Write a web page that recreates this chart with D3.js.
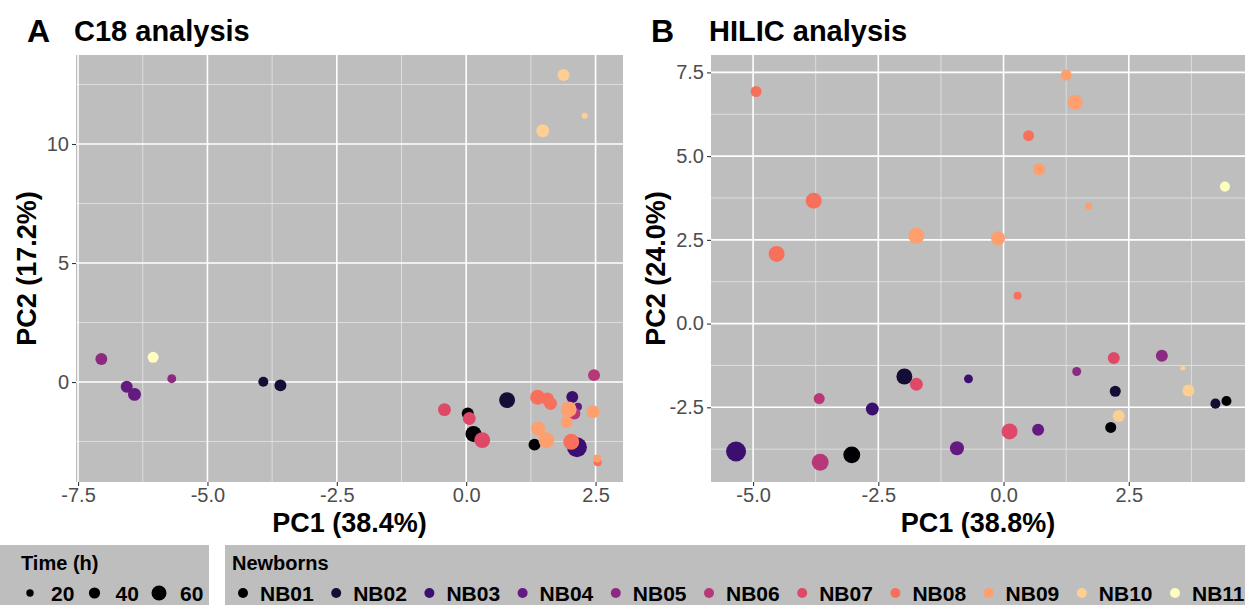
<!DOCTYPE html>
<html>
<head>
<meta charset="utf-8">
<script src="https://cdn.jsdelivr.net/npm/d3@7"></script>
<style>
    body { margin: 0; background: #ffffff; }
    svg { display: block; font-family: "Liberation Sans", Arial, sans-serif; }
</style>
</head>
<body>
<div id="chart"></div>
<script>

// newborn ids (colour legend)
let newborns = ["NB01", "NB02", "NB03", "NB04", "NB05", "NB06", "NB07", "NB08", "NB09", "NB10", "NB11"];
let timeBreaks = [20, 40, 60];

// C18 analysis (panel A)
let c18Newborn = ["NB01", "NB01", "NB01", "NB02", "NB02", "NB02", "NB03", "NB03", "NB04", "NB04", "NB04",
    "NB05", "NB05", "NB06", "NB06", "NB07", "NB07", "NB07", "NB08", "NB08", "NB08", "NB08", "NB08",
    "NB09", "NB09", "NB09", "NB09", "NB09", "NB09", "NB10", "NB10", "NB10", "NB11"];
let c18PC1 = [0.03, 0.14, 1.32, -3.92, -3.59, 0.79, 2.05, 2.14, -6.56, -6.41, 2.16,
    -7.05, -5.69, 2.47, 2.09, -0.42, 0.06, 0.31, 1.38, 1.57, 1.63, 2.03, 2.54,
    1.98, 2.45, 1.94, 1.39, 1.55, 2.53, 1.88, 2.29, 1.48, -6.05];
let c18PC2 = [-1.32, -2.18, -2.63, 0.01, -0.14, -0.76, -0.63, -2.74, -0.20, -0.52, -1.04,
    0.97, 0.14, 0.29, -1.32, -1.16, -1.53, -2.44, -0.64, -0.71, -0.90, -2.51, -3.37,
    -1.15, -1.25, -1.68, -1.95, -2.44, -3.21, 12.9, 11.19, 10.56, 1.04];
let c18Time = [44, 65, 44, 34, 44, 65, 44, 86, 44, 49, 23,
    44, 28, 44, 44, 49, 49, 65, 60, 49, 49, 65, 23,
    65, 49, 44, 55, 65, 23, 44, 13, 49, 39];

// HILIC analysis (panel B)
let hilicNewborn = ["NB01", "NB01", "NB01", "NB02", "NB02", "NB02", "NB03", "NB03", "NB03", "NB04", "NB04",
    "NB05", "NB05", "NB06", "NB06", "NB07", "NB07", "NB07", "NB08", "NB08", "NB08", "NB08", "NB08",
    "NB09", "NB09", "NB09", "NB09", "NB09", "NB09", "NB10", "NB10", "NB10", "NB11"];
let hilicPC1 = [2.14, 4.45, -3.03, -1.98, 2.23, 4.23, -0.70, -2.62, -5.34, 0.69, -0.93,
    3.16, 1.46, -3.68, -3.66, 2.20, -1.74, 0.12, -4.94, 0.50, -3.79, -4.53, 0.28,
    1.25, 1.43, 0.71, 1.70, -1.74, -0.11, 3.58, 3.69, 2.30, 4.42];
let hilicPC2 = [-3.10, -2.31, -3.92, -1.58, -2.02, -2.39, -1.65, -2.55, -3.82, -3.17, -3.72,
    -0.96, -1.43, -2.24, -4.14, -1.03, -1.81, -3.22, 6.93, 5.61, 3.67, 2.08, 0.83,
    7.42, 6.61, 4.61, 3.51, 2.62, 2.55, -1.33, -2.00, -2.76, 4.09];
let hilicTime = [39, 34, 70, 65, 39, 34, 28, 49, 86, 44, 55,
    44, 28, 39, 70, 44, 49, 65, 39, 39, 65, 65, 23,
    39, 60, 44, 18, 65, 55, 7, 44, 44, 34];

let w = 1245;
let h = 605;

let panelBg = "#bebebe";

// ggplot style labels use a plain hyphen for negatives
let locale = d3.formatLocale({ decimal: ".", thousands: ",", grouping: [3], currency: ["", ""], minus: "-" });

let color = d3.scaleOrdinal()
    .domain(newborns)
    .range(newborns.map(function (d, i) { return d3.interpolateMagma(i / (newborns.length - 1)); }));

let radius = d3.scaleLinear().domain([0, 100]).range([1.8, 11.3]);

let svg = d3.select("#chart")
    .append("svg")
    .attr("width", w)
    .attr("height", h);

function zipPoints(ids, xs, ys, ts) {
    return ids.map(function (d, i) {
        return { nb: d, x: xs[i], y: ys[i], t: ts[i] };
    });
}

function drawPanel(opts) {
    let x = d3.scaleLinear().domain(opts.xDomain).range([opts.left, opts.right]);
    let y = d3.scaleLinear().domain(opts.yDomain).range([opts.bottom, opts.top]);

    let g = svg.append("g");

    g.append("rect")
        .attr("x", opts.left)
        .attr("y", opts.top)
        .attr("width", opts.right - opts.left)
        .attr("height", opts.bottom - opts.top)
        .attr("fill", panelBg);

    // minor grid
    g.selectAll(".minor-x")
        .data(opts.xMinor)
        .enter()
        .append("line")
        .attr("x1", function (d) { return x(d); })
        .attr("x2", function (d) { return x(d); })
        .attr("y1", opts.top)
        .attr("y2", opts.bottom)
        .attr("stroke", "#e4e4e4")
        .attr("stroke-width", 0.8);

    g.selectAll(".minor-y")
        .data(opts.yMinor)
        .enter()
        .append("line")
        .attr("x1", opts.left)
        .attr("x2", opts.right)
        .attr("y1", function (d) { return y(d); })
        .attr("y2", function (d) { return y(d); })
        .attr("stroke", "#e4e4e4")
        .attr("stroke-width", 0.8);

    // major grid
    g.selectAll(".major-x")
        .data(opts.xTicks)
        .enter()
        .append("line")
        .attr("x1", function (d) { return x(d); })
        .attr("x2", function (d) { return x(d); })
        .attr("y1", opts.top)
        .attr("y2", opts.bottom)
        .attr("stroke", "#ffffff")
        .attr("stroke-width", 1.6);

    g.selectAll(".major-y")
        .data(opts.yTicks)
        .enter()
        .append("line")
        .attr("x1", opts.left)
        .attr("x2", opts.right)
        .attr("y1", function (d) { return y(d); })
        .attr("y2", function (d) { return y(d); })
        .attr("stroke", "#ffffff")
        .attr("stroke-width", 1.6);

    g.selectAll("circle")
        .data(opts.points)
        .enter()
        .append("circle")
        .attr("cx", function (d) { return x(d.x); })
        .attr("cy", function (d) { return y(d.y); })
        .attr("r", function (d) { return radius(d.t); })
        .attr("fill", function (d) { return color(d.nb); });

    // axes
    let xAxis = g.append("g")
        .attr("transform", "translate(0," + opts.bottom + ")")
        .call(d3.axisBottom(x).tickValues(opts.xTicks).tickFormat(locale.format(".1f")).tickSize(4).tickPadding(2));

    let yAxis = g.append("g")
        .attr("transform", "translate(" + opts.left + ",0)")
        .call(d3.axisLeft(y).tickValues(opts.yTicks).tickFormat(locale.format(opts.yFormat)).tickSize(4).tickPadding(3));

    [xAxis, yAxis].forEach(function (a) {
        a.select(".domain").remove();
        a.selectAll("line").attr("stroke", "#333333").attr("stroke-width", 1.1);
        a.selectAll("text")
            .attr("fill", "#4d4d4d")
            .attr("font-size", "20px")
            .attr("font-family", "Liberation Sans, Arial, sans-serif");
    });

    // axis titles
    g.append("text")
        .attr("x", (opts.left + opts.right) / 2)
        .attr("y", 532)
        .attr("text-anchor", "middle")
        .attr("font-size", "27px")
        .attr("font-weight", "bold")
        .text(opts.xTitle);

    g.append("text")
        .attr("transform", "translate(" + opts.yTitleX + "," + (opts.top + opts.bottom) / 2 + ") rotate(-90)")
        .attr("text-anchor", "middle")
        .attr("font-size", "27px")
        .attr("font-weight", "bold")
        .text(opts.yTitle);

    // panel tag and title
    g.append("text")
        .attr("x", opts.tagX)
        .attr("y", 42)
        .attr("font-size", "32px")
        .attr("font-weight", "bold")
        .text(opts.tag);

    g.append("text")
        .attr("x", opts.left - 2)
        .attr("y", 41)
        .attr("font-size", "29px")
        .attr("font-weight", "bold")
        .text(opts.title);
}

drawPanel({
    tag: "A",
    tagX: 27,
    title: "C18 analysis",
    left: 76, right: 623, top: 55, bottom: 482,
    xDomain: [-7.54, 3.03],
    yDomain: [-4.2, 13.74],
    xTicks: [-7.5, -5, -2.5, 0, 2.5],
    yTicks: [0, 5, 10],
    xMinor: [-6.25, -3.75, -1.25, 1.25],
    yMinor: [-2.5, 2.5, 7.5, 12.5],
    yFormat: "d",
    xTitle: "PC1 (38.4%)",
    yTitle: "PC2 (17.2%)",
    yTitleX: 36,
    points: zipPoints(c18Newborn, c18PC1, c18PC2, c18Time)
});

drawPanel({
    tag: "B",
    tagX: 651,
    title: "HILIC analysis",
    left: 711, right: 1245, top: 55, bottom: 482,
    xDomain: [-5.84, 4.82],
    yDomain: [-4.73, 8.02],
    xTicks: [-5, -2.5, 0, 2.5],
    yTicks: [-2.5, 0, 2.5, 5, 7.5],
    xMinor: [-3.75, -1.25, 1.25, 3.75],
    yMinor: [-3.75, -1.25, 1.25, 3.75, 6.25],
    yFormat: ".1f",
    xTitle: "PC1 (38.8%)",
    yTitle: "PC2 (24.0%)",
    yTitleX: 665,
    points: zipPoints(hilicNewborn, hilicPC1, hilicPC2, hilicTime)
});

// legends
let legendTop = 545;

svg.append("rect")
    .attr("x", 0).attr("y", legendTop)
    .attr("width", 209).attr("height", h - legendTop)
    .attr("fill", panelBg);

svg.append("text")
    .attr("x", 21).attr("y", 570)
    .attr("font-size", "20px").attr("font-weight", "bold")
    .text("Time (h)");

let timeKeys = svg.selectAll(".time-key")
    .data(timeBreaks)
    .enter()
    .append("g")
    .attr("transform", function (d, i) { return "translate(" + (30 + i * 64.5) + ",593)"; });

timeKeys.append("circle")
    .attr("r", function (d) { return radius(d); })
    .attr("fill", "#000000");

timeKeys.append("text")
    .attr("x", 21)
    .attr("y", 8)
    .attr("font-size", "21px").attr("font-weight", "bold")
    .text(function (d) { return d; });

svg.append("rect")
    .attr("x", 225).attr("y", legendTop)
    .attr("width", w - 225).attr("height", h - legendTop)
    .attr("fill", panelBg);

svg.append("text")
    .attr("x", 232).attr("y", 570)
    .attr("font-size", "20px").attr("font-weight", "bold")
    .text("Newborns");

let nbKeys = svg.selectAll(".nb-key")
    .data(newborns)
    .enter()
    .append("g")
    .attr("transform", function (d, i) { return "translate(" + (243 + i * 93.2) + ",593)"; });

nbKeys.append("circle")
    .attr("r", 5)
    .attr("fill", function (d) { return color(d); });

nbKeys.append("text")
    .attr("x", 17)
    .attr("y", 8)
    .attr("font-size", "21px").attr("font-weight", "bold")
    .text(function (d) { return d; });

</script>
</body>
</html>
